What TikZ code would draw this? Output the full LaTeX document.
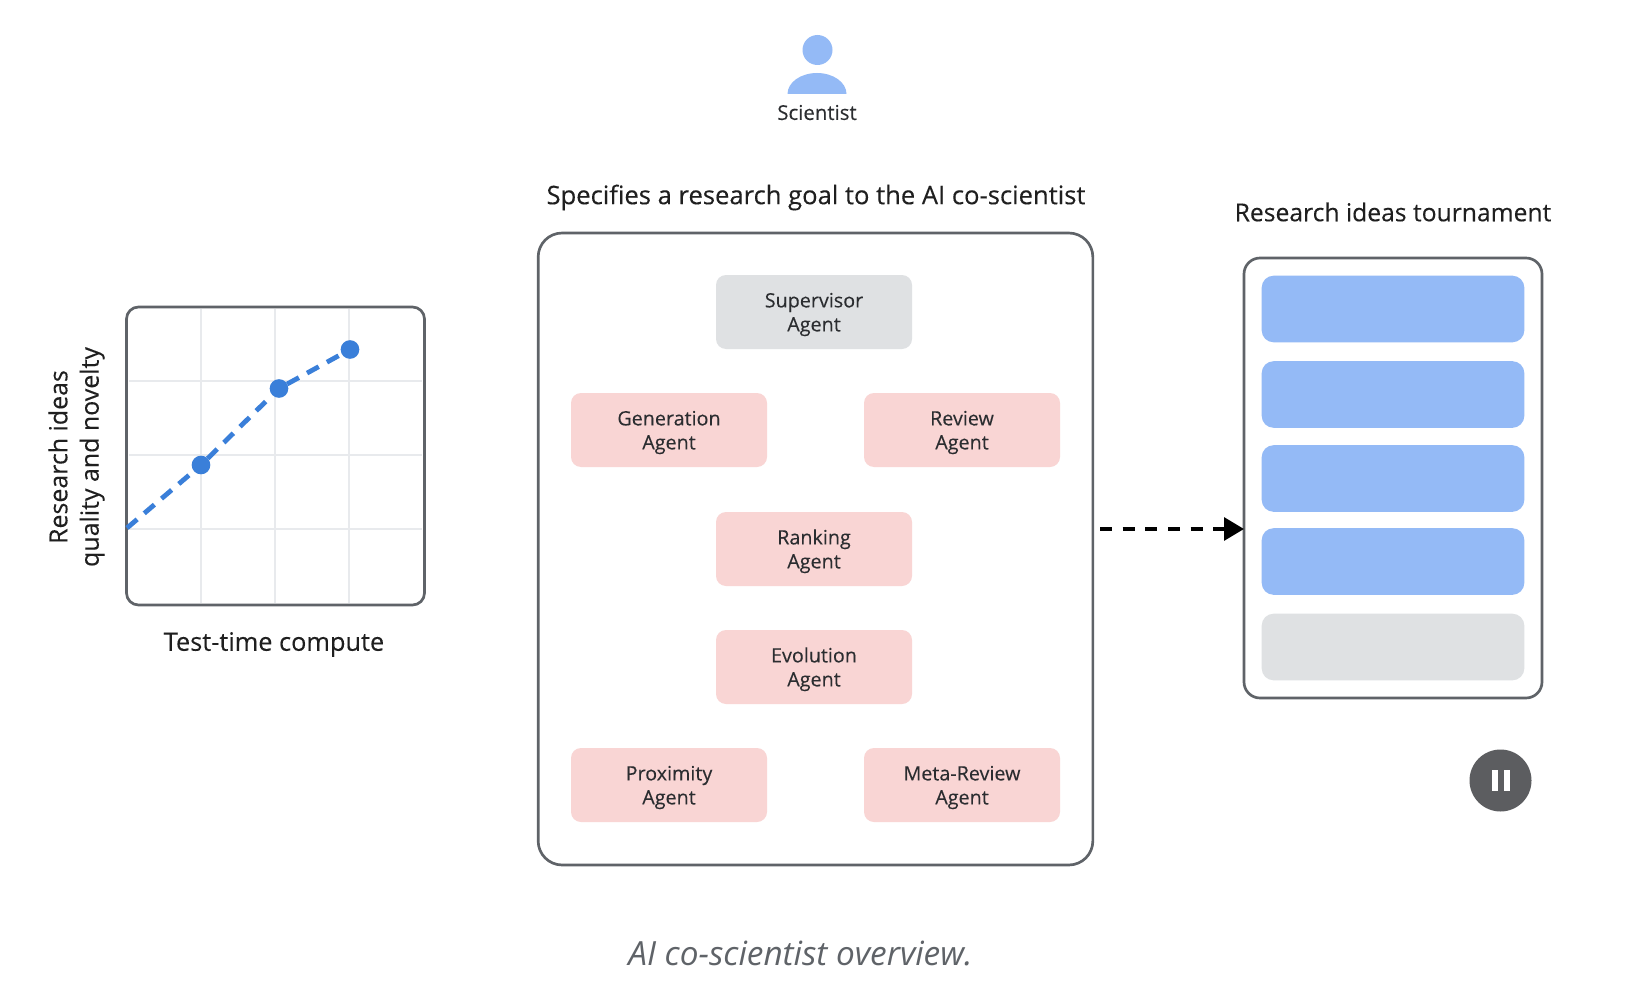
\documentclass[tikz,border=0pt]{standalone}
\usepackage{fontspec}
\setmainfont{Open Sans}
\newfontfamily\medfont[FakeBold=0.2]{Open Sans}
\usetikzlibrary{arrows.meta}
\definecolor{framegray}{HTML}{5F6368}
\definecolor{gridgray}{HTML}{E8EAED}
\definecolor{softgray}{HTML}{DFE1E3}
\definecolor{softpink}{HTML}{F9D5D4}
\definecolor{softblue}{HTML}{94BAF6}
\definecolor{plotblue}{HTML}{3A7FD9}
\definecolor{inkgray}{HTML}{2B2D30}
\definecolor{captiongray}{HTML}{5F6368}
\definecolor{pausegray}{HTML}{5C5D60}
\newcommand{\agentfont}{\medfont\fontsize{14.8}{18}\selectfont}
% Two-line agent label with a fixed first-line height, so every label sits alike
\newcommand{\agentlabel}[1]{\rule{0pt}{14.6pt}#1\\Agent}
\tikzset{
  x=0.75pt, y=-0.75pt,
  frame/.style={draw=framegray, line width=2pt, fill=white, rounded corners=#1, inner sep=0pt, outer sep=0pt},
  agent/.style={fill=#1, rounded corners=7.5pt, minimum width=147pt, minimum height=55.5pt,
    inner sep=0pt, outer sep=0pt, align=center, text=inkgray, font=\agentfont},
  slot/.style={fill=#1, rounded corners=9pt, minimum width=197pt, minimum height=50pt, inner sep=0pt, outer sep=0pt},
  heading/.style={text=black!88, font=\medfont\fontsize{#1}{22}\selectfont, inner sep=0pt},
  gridline/.style={draw=gridgray, line width=1.4pt},
  trend/.style={draw=plotblue, line width=3.6pt, dash pattern=on 10pt off 7pt},
  marker/.style={circle, fill=plotblue, minimum size=14pt, inner sep=0pt, outer sep=0pt},
  flow/.style={draw=black, line width=3pt, dash pattern=on 9pt off 8pt, -{Triangle[length=15pt,width=17pt]}}
}
\begin{document}
\begin{tikzpicture}
\useasboundingbox[fill=white] (0,0) rectangle (1636,1006);

% Scientist icon and label
\fill[softblue] (817.5,50) circle[radius=15];
\fill[softblue] (787.5,94) arc[start angle=180, end angle=360, x radius=29.5, y radius=21] -- cycle;
\node[text=inkgray, font=\medfont\fontsize{15.3}{18}\selectfont, inner sep=0pt] (scientist) at (817,112.5) {Scientist};

% Compute chart
\node[frame=9pt, minimum width=223.5pt, minimum height=223.5pt] (chart) at (275.5,456) {};
\foreach \gx in {201,275,349} \draw[gridline] (\gx,309) -- (\gx,603);
\foreach \gy in {381,455,529} \draw[gridline] (129,\gy) -- (422,\gy);
\node[marker] (ptA) at (201,465) {};
\node[marker] (ptB) at (279,388.5) {};
\node[marker] (ptC) at (350,349.5) {};
\coordinate (ptStart) at (127,528);
\draw[trend] (ptStart) -- (ptA);
\draw[trend] (ptA) -- (ptB);
\draw[trend] (ptB) -- (ptC);
\node[rotate=90, align=center, text=black!88, font=\medfont\fontsize{18.7}{23.5}\selectfont, inner sep=0pt] (yaxis) at (76.5,457) {Research ideas\\quality and novelty};
\node[heading=19] (xaxis) at (274,644.5) {Test-time compute};

% Co-scientist panel with its agents
\node[heading=19.2] (goal) at (816,197.5) {Specifies a research goal to the AI co-scientist};
\node[frame=18pt, minimum width=416pt, minimum height=474pt] (panel) at (815.5,549) {};
\node[agent=softgray] (supervisor) at (814,312) {\agentlabel{Supervisor}};
\node[agent=softpink] (generation) at (669,430) {\agentlabel{Generation}};
\node[agent=softpink] (review) at (962,430) {\agentlabel{Review}};
\node[agent=softpink] (ranking) at (814,549) {\agentlabel{Ranking}};
\node[agent=softpink] (evolution) at (814,667) {\agentlabel{Evolution}};
\node[agent=softpink] (proximity) at (669,785) {\agentlabel{Proximity}};
\node[agent=softpink] (metareview) at (962,785) {\agentlabel{Meta-Review}};

% Tournament list
\node[heading=18.5] (tourneytitle) at (1393,212) {Research ideas tournament};
\node[frame=12pt, minimum width=223.5pt, minimum height=330pt] (tourney) at (1393,478) {};
\node[slot=softblue] (idea1) at (1393,309) {};
\node[slot=softblue] (idea2) at (1393,394.5) {};
\node[slot=softblue] (idea3) at (1393,478.5) {};
\node[slot=softblue] (idea4) at (1393,561.5) {};
\node[slot=softgray] (idea5) at (1393,647) {};

% Panel output into the tournament
\coordinate (flowStart) at (1100,529);
\draw[flow] (flowStart) -- (tourney.west |- flowStart);

% Pause control
\fill[pausegray] (1500.5,780.5) circle[radius=31];
\fill[white] (1491.5,770) rectangle (1497.5,791);
\fill[white] (1504,770) rectangle (1510,791);

% Caption
\node[text=captiongray, font=\fontsize{25}{29}\selectfont\itshape, inner sep=0pt] (caption) at (800.5,953) {AI co-scientist overview.};
\end{tikzpicture}
\end{document}
